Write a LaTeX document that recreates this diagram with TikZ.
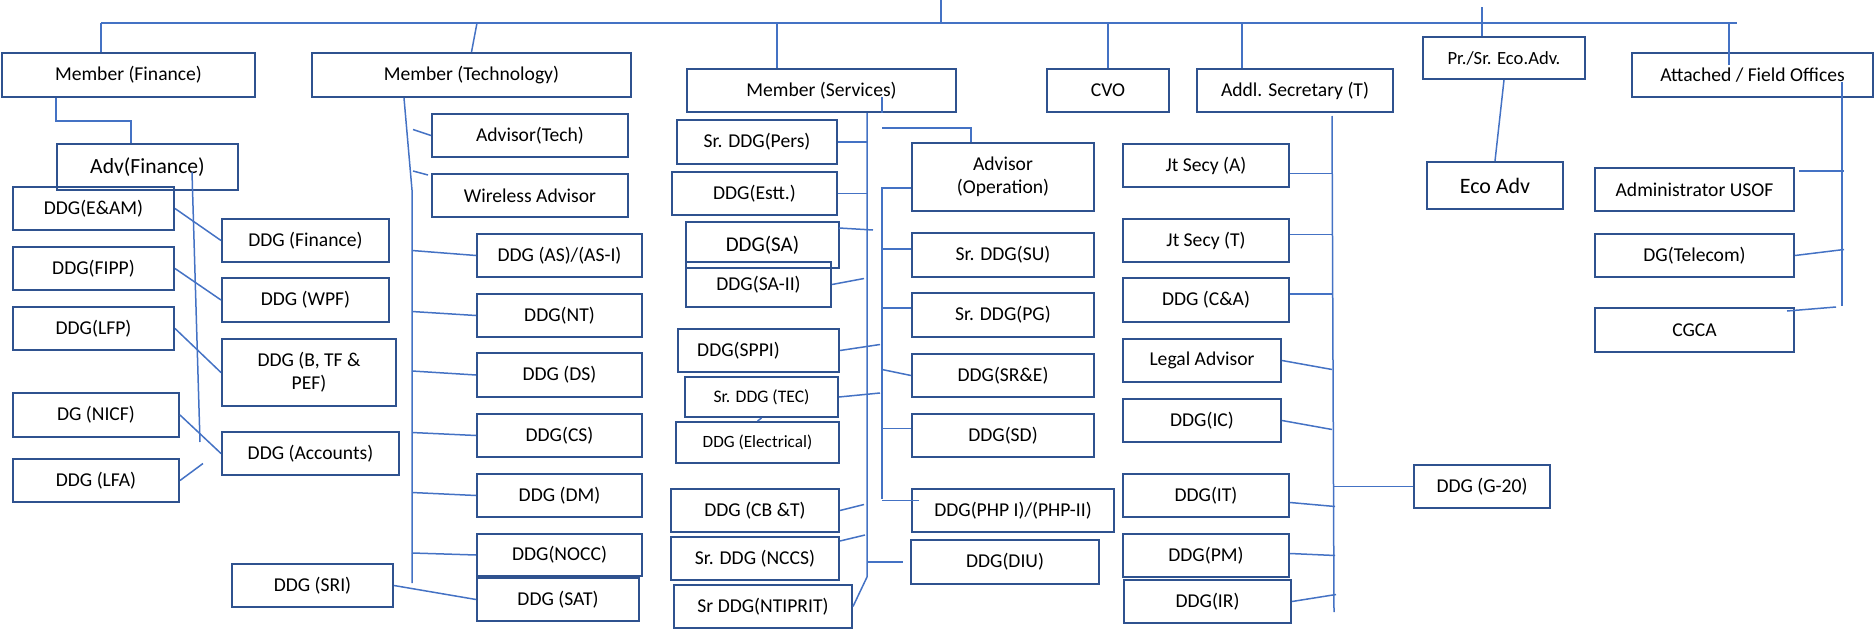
\documentclass[tikz,border=0pt]{standalone}
\usepackage{fontspec}
\setmainfont{Carlito}

\definecolor{boxblue}{HTML}{2F528F}
\definecolor{lineblue}{HTML}{4472C4}

\tikzset{
	org node/.style = {
		rectangle,
		draw = boxblue,
		line width = 2pt,
		anchor = north west,
		align = center,
		inner sep = 0pt,
		font = \fontsize{19.6}{23}\selectfont,
		minimum height = 43pt
	},
	big node/.style = {
		org node,
		font = \fontsize{21.6}{25}\selectfont
	},
	small node/.style = {
		org node,
		font = \fontsize{17.6}{21}\selectfont
	},
	conn line/.style = {
		draw = lineblue,
		line width = 1.5pt
	}
}

\begin{document}
\begin{tikzpicture}[x=1pt, y=-1pt]
\useasboundingbox (0,0) rectangle (1874,629);

% top level
\node at (1,52)    [org node, minimum width=253pt, minimum height=44pt] (mfin)  {Member (Finance)};
\node at (311,52)  [org node, minimum width=319pt, minimum height=44pt] (mtech) {Member (Technology)};
\node at (686,68)  [org node, minimum width=269pt] (mserv) {Member (Services)};
\node at (1046,68) [org node, minimum width=122pt] (cvo)   {CVO};
\node at (1196,68) [org node, minimum width=196pt] (addl)  {Addl. Secretary (T)};
\node at (1422,36) [org node, font=\fontsize{18.6}{22}\selectfont, minimum width=162pt, minimum height=42pt] (preco) {Pr./Sr. Eco.Adv.};
\node at (1631,52) [org node, minimum width=241pt, minimum height=44pt] (field) {Attached / Field Offices};

% finance
\node at (56,143)  [big node, minimum width=181pt, minimum height=46pt] (advfin) {Adv(Finance)};
\node at (12,186)  [org node, minimum width=161pt] (eam)  {DDG(E\&AM)};
\node at (221,218) [org node, minimum width=167pt] (dfin) {DDG (Finance)};
\node at (12,246)  [org node, minimum width=161pt] (fipp) {DDG(FIPP)};
\node at (221,277) [org node, minimum width=167pt, minimum height=44pt] (wpf) {DDG (WPF)};
\node at (12,306)  [org node, minimum width=161pt] (lfp)  {DDG(LFP)};
\node at (221,338) [org node, minimum width=174pt, minimum height=67pt] (btf) {DDG (B, TF \&\\PEF)};
\node at (12,392)  [org node, minimum width=166pt, minimum height=44pt] (nicf) {DG (NICF)};
\node at (221,431) [org node, minimum width=177pt] (acc)  {DDG (Accounts)};
\node at (12,458)  [org node, minimum width=166pt] (lfa)  {DDG (LFA)};

% technology
\node at (431,113) [org node, minimum width=196pt] (advtech) {Advisor(Tech)};
\node at (431,173) [org node, minimum width=196pt] (wless)   {Wireless Advisor};
\node at (476,233) [org node, minimum width=165pt] (as)   {DDG (AS)/(AS-I)};
\node at (476,293) [org node, minimum width=165pt] (nt)   {DDG(NT)};
\node at (476,352) [org node, minimum width=165pt, minimum height=44pt] (ds) {DDG (DS)};
\node at (476,413) [org node, minimum width=165pt] (cs)   {DDG(CS)};
\node at (476,473) [org node, minimum width=165pt] (dm)   {DDG (DM)};
\node at (476,533) [org node, minimum width=165pt, minimum height=42pt] (nocc) {DDG(NOCC)};
\node at (476,577) [org node, minimum width=162pt] (sat)  {DDG (SAT)};
\node at (231,563) [org node, minimum width=161pt] (sri)  {DDG (SRI)};

% services
\node at (676,119) [org node, minimum width=160pt, minimum height=44pt] (pers) {Sr. DDG(Pers)};
\node at (671,171) [org node, minimum width=165pt] (estt) {DDG(Estt.)};
\node at (685,221) [org node, font=\fontsize{21}{25}\selectfont, minimum width=153pt, minimum height=46pt] (sa) {DDG(SA)};
\node at (685,261) [org node, minimum width=145pt, minimum height=45pt] (sa2) {DDG(SA-II)};
\node at (677,328) [org node, minimum width=161pt] (sppi) {DDG(SPPI)\hspace*{40pt}};
\node at (684,376) [small node, minimum width=153pt, minimum height=40pt] (tec)  {Sr. DDG (TEC)};
\node at (675,421) [small node, font=\fontsize{17.2}{21}\selectfont, minimum width=163pt, minimum height=41pt] (elec) {DDG (Electrical)};
\node at (670,488) [org node, minimum width=168pt] (cbt)  {DDG (CB \&T)};
\node at (670,536) [org node, minimum width=168pt] (nccs) {Sr. DDG (NCCS)};
\node at (673,584) [org node, minimum width=178pt] (ntip) {Sr DDG(NTIPRIT)};

\node at (911,142) [org node, minimum width=182pt, minimum height=68pt] (advop) {Advisor\\(Operation)};
\node at (911,232) [org node, minimum width=182pt, minimum height=44pt] (su)  {Sr. DDG(SU)};
\node at (911,292) [org node, minimum width=182pt, minimum height=44pt] (pg)  {Sr. DDG(PG)};
\node at (911,353) [org node, minimum width=182pt] (sre) {DDG(SR\&E)};
\node at (911,413) [org node, minimum width=182pt] (sd)  {DDG(SD)};
\node at (911,488) [org node, minimum width=202pt] (php) {DDG(PHP I)/(PHP-II)};
\node at (910,539) [org node, minimum width=188pt, minimum height=44pt] (diu) {DDG(DIU)};

% addl. secretary
\node at (1122,143) [org node, minimum width=166pt] (jsa)   {Jt Secy (A)};
\node at (1122,218) [org node, minimum width=166pt] (jst)   {Jt Secy (T)};
\node at (1122,277) [org node, minimum width=166pt, minimum height=44pt] (ca) {DDG (C\&A)};
\node at (1122,338) [org node, minimum width=158pt] (legal) {Legal Advisor};
\node at (1122,398) [org node, minimum width=158pt] (ic)    {DDG(IC)};
\node at (1122,473) [org node, minimum width=166pt] (it)    {DDG(IT)};
\node at (1122,533) [org node, minimum width=166pt] (pm)    {DDG(PM)};
\node at (1123,579) [org node, minimum width=167pt] (ir)    {DDG(IR)};
\node at (1413,464) [org node, minimum width=136pt] (g20)   {DDG (G-20)};

% eco adv and field offices
\node at (1426,161) [big node, font=\fontsize{22}{26}\selectfont, minimum width=136pt, minimum height=47pt] (eco) {Eco Adv};
\node at (1594,167) [org node, minimum width=199pt] (usof) {Administrator USOF};
\node at (1594,233) [org node, minimum width=199pt] (dgt)  {DG(Telecom)};
\node at (1594,307) [org node, minimum width=199pt, minimum height=44pt] (cgca) {CGCA};

% top bar
\coordinate (root) at (941,0);
\coordinate (bar w) at (101,23);
\coordinate (bar e) at (1737,23);
\coordinate (stem tech) at (477,23);
\coordinate (stem serv) at (777,23);
\coordinate (stem addl) at (1242,23);
\coordinate (stem eco) at (1482,7);
\coordinate (stem field) at (1729,23);
\draw [conn line] (root) -- (root |- bar w);
\draw [conn line] (bar w) -- (bar e);
\draw [conn line] (bar w) -- (bar w |- mfin.north);
\draw [conn line] (stem tech) -- (mtech.north);
\draw [conn line] (stem serv) -- (stem serv |- mserv.north);
\draw [conn line] (cvo.north |- bar w) -- (cvo.north);
\draw [conn line] (stem addl) -- (stem addl |- addl.north);
\draw [conn line] (stem eco) -- (stem eco |- preco.north);
\draw [conn line] (stem field) -- ++(0,42);

% finance lines
\coordinate (fin elbow) at (131,121);
\coordinate (fin spine top) at (192,172);
\coordinate (fin spine bot) at (200,442);
\draw [conn line] (mfin.south -| advfin.west) |- (fin elbow) -- (fin elbow |- advfin.north);
\draw [conn line] (fin spine top) -- (fin spine bot);
\draw [conn line] (eam.east) -- (dfin.west);
\draw [conn line] (fipp.east) -- (wpf.west);
\draw [conn line] (lfp.east) -- (btf.west);
\draw [conn line] (nicf.east) -- (acc.west);
\draw [conn line] (lfa.east) -- ++(23,-17);

% technology lines
\coordinate (tech spine top) at (404,98);
\coordinate (tech spine knee) at (412,190);
\coordinate (tech spine bot) at (412,583);
\draw [conn line] (tech spine top) -- (tech spine knee) -- (tech spine bot);
\draw [conn line] (advtech.west) -- ++(-18,-6);
\draw [conn line] (wless.north west) ++(-3,2) -- ++(-15,-4);
\foreach \n/\dy in {as/5, nt/4, ds/4, cs/3, dm/3, nocc/2}
	\draw [conn line] (\n.west) -- ++(-64,-\dy);
\draw [conn line] (sri.east) -- (sat.west);

% services lines
\coordinate (serv stub) at (882,97);
\coordinate (serv spine top) at (867,113);
\coordinate (serv spine bot) at (867,577);
\coordinate (ops spine top) at (882,187);
\coordinate (ops spine bot) at (882,499);
\draw [conn line] (serv stub) -- (serv stub |- mserv.south);
\draw [conn line] (serv spine top) -- (serv spine bot) -- (ntip.east);
\draw [conn line] (ops spine top) -- (ops spine bot);
\draw [conn line] (advop.north west) ++(60,0) -- ++(0,-14) -- ++(-89,0);
\draw [conn line] (pers.east) -- ++(29,0);
\draw [conn line] (estt.east) -- ++(29,0);
\draw [conn line] (sa.north east) ++(-1,7) -- ++(34,2);
\draw [conn line] (sa2.east) -- ++(32,-6);
\draw [conn line] (sppi.east) -- ++(40,-6);
\draw [conn line] (tec.east) -- ++(41,-4);
\draw [conn line] (tec.south) -- (elec.north);
\draw [conn line] (cbt.east) -- ++(24,-6);
\draw [conn line] (nccs.north east) ++(0,5) -- ++(25,-6);
\draw [conn line] (serv spine bot |- diu.west) -- ++(36,0);
\draw [conn line] (advop.west) ++(0,11) -- ++(-29,0);
\draw [conn line] (su.west) ++(0,-6) -- ++(-29,0);
\draw [conn line] (pg.west) ++(0,-7) -- ++(-29,0);
\draw [conn line] (sre.west) -- ++(-29,-6);
\draw [conn line] (sd.west) ++(0,-7) -- ++(-29,0);
\draw [conn line] (php.west) ++(8,-10) -- ++(-37,0);

% addl. secretary lines
\coordinate (addl spine top) at (1332,116);
\coordinate (addl spine bot) at (1334,612);
\draw [conn line] (addl spine top) -- (addl spine bot);
\draw [conn line] (jsa.east) ++(0,8) -- ++(42,0);
\draw [conn line] (jst.east) ++(0,-6) -- ++(42,0);
\draw [conn line] (ca.east) ++(0,-6) -- ++(42,0);
\draw [conn line] (legal.east) -- ++(50,9);
\draw [conn line] (ic.east) -- ++(50,9);
\draw [conn line] (it.east) ++(0,7) -- ++(45,4);
\draw [conn line] (pm.east) ++(0,-2) -- ++(45,2);
\draw [conn line] (ir.east) -- ++(44,-7);
\draw [conn line] (addl spine bot |- g20.west) -- (g20.west);

% eco adv and field lines
\coordinate (field spine top) at (1842,82);
\coordinate (field spine bot) at (1842,306);
\draw [conn line] (preco.south) -- (eco.north);
\draw [conn line] (field spine top) -- (field spine bot);
\draw [conn line] (usof.north east) ++(4,4) -- ++(45,0);
\draw [conn line] (dgt.east) -- ++(49,-6);
\draw [conn line] (cgca.north east) ++(-8,4) -- ++(49,-4);
\end{tikzpicture}
\end{document}
